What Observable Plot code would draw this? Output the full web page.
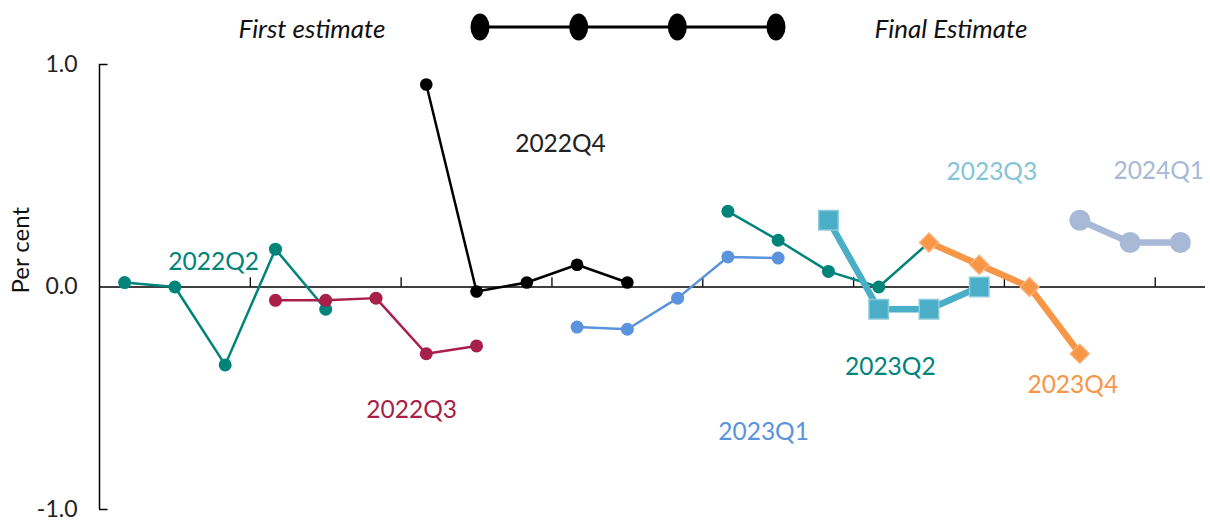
<!DOCTYPE html>
<html>
<head>
<meta charset="utf-8">
<script src="https://cdn.jsdelivr.net/npm/d3@7"></script>
<script src="https://cdn.jsdelivr.net/npm/@observablehq/plot@0.6"></script>
<style>
  html, body { margin: 0; padding: 0; background: #fff; }
  body { width: 1210px; height: 522px; overflow: hidden; font-family: Lato, "Noto Sans", sans-serif; }
  #legend { position: relative; width: 1210px; height: 50px; }
  #legend .lg { position: absolute; top: 15px; font-style: italic; font-size: 26px; color: #111; white-space: nowrap; line-height: 1; transform: translateX(-50%); }
  #legend svg { position: absolute; left: 0; top: 0; }
  #chart svg { display: block; }
</style>
</head>
<body>
<div id="legend"></div>
<div id="chart"></div>
<script>
// ---- data ----
const quarters = ["2022Q2", "2022Q3", "2022Q4", "2023Q1", "2023Q2", "2023Q3", "2023Q4", "2024Q1"];
// position (0-based estimate slot) of each quarter's first estimate
const firstSlot = [0, 3, 6, 9, 12, 14, 16, 19];
const v2022Q2 = [0.02, 0.00, -0.35, 0.17, -0.10];
const v2022Q3 = [-0.06, -0.06, -0.05, -0.30, -0.265];
const v2022Q4 = [0.91, -0.02, 0.02, 0.10, 0.02];
const v2023Q1 = [-0.18, -0.19, -0.05, 0.135, 0.13];
const v2023Q2 = [0.34, 0.21, 0.07, 0.00, 0.20];
const v2023Q3 = [0.30, -0.10, -0.10, 0.00];
const v2023Q4 = [0.20, 0.10, 0.00, -0.30];
const v2024Q1 = [0.30, 0.20, 0.20];
const seriesValues = [v2022Q2, v2022Q3, v2022Q4, v2023Q1, v2023Q2, v2023Q3, v2023Q4, v2024Q1];
// annotation anchor for each quarter's label (slot, per cent)
const labelSlot = [1.77, 5.71, 8.67, 12.71, 15.23, 17.25, 18.86, 20.57];
const labelValue = [0.112, -0.553, 0.64, -0.652, -0.36, 0.517, -0.44, 0.52];
const yTicks = [-1, 0, 1];
const xTickSlots = [2.5, 5.5, 8.5, 11.5, 14.5, 17.5, 20.5];
const yLabel = "Per cent";
const legendLeft = "First estimate";
const legendRight = "Final Estimate";
const legendMarkers = 4;

// ---- styles ----
const styleByQuarter = {
  "2022Q2": {color: "#00847a", width: 2.5, symbol: "circle", r: 6.5},
  "2022Q3": {color: "#a81f4a", width: 2.5, symbol: "circle", r: 6.5},
  "2022Q4": {color: "#000000", width: 2.5, symbol: "circle", r: 6.3},
  "2023Q1": {color: "#5b94dc", width: 2.5, symbol: "circle", r: 6.5},
  "2023Q2": {color: "#00847a", width: 2.5, symbol: "circle", r: 6.5},
  "2023Q3": {color: "#4aaec6", width: 6.5, symbol: "square", r: 11, edge: "#8ccbdc"},
  "2023Q4": {color: "#f79646", width: 6.5, symbol: "diamond2", r: 8.5, edge: "#f9b07a"},
  "2024Q1": {color: "#a8b9d8", width: 6.5, symbol: "circle", r: 10.5}
};
const labelColor = {"2022Q4": "#222", "2023Q3": "#86c4d8"};

// ---- rows ----
const rows = quarters.flatMap((q, k) =>
  seriesValues[k].map((v, i) => ({quarter: q, slot: firstSlot[k] + i, value: v})));
const labels = quarters.map((q, k) => ({quarter: q, slot: labelSlot[k], value: labelValue[k]}));

// ---- legend (HTML above the SVG) ----
const legend = d3.select("#legend");
legend.append("span").attr("class", "lg").style("left", "312px").text(legendLeft);
legend.append("span").attr("class", "lg").style("left", "951px").text(legendRight);
const lsvg = legend.append("svg").attr("width", 1210).attr("height", 50);
const lx = d3.scaleLinear().domain([0, legendMarkers - 1]).range([480, 776]);
lsvg.append("line").attr("x1", lx(0)).attr("x2", lx(legendMarkers - 1)).attr("y1", 27).attr("y2", 27)
  .attr("stroke", "#000").attr("stroke-width", 3);
lsvg.selectAll("ellipse").data(d3.range(legendMarkers)).join("ellipse")
  .attr("cx", d => lx(d)).attr("cy", 27).attr("rx", 9.5).attr("ry", 13.5).attr("fill", "#000");

// ---- chart ----
const marks = [
  // x axis line at zero and tick marks
  Plot.ruleY([0], {stroke: "#000", strokeWidth: 1.5}),
  Plot.ruleX(xTickSlots, {y1: 0, y2: 0.042, stroke: "#000", strokeWidth: 1.3}),
  // y axis line and inward ticks
  Plot.ruleX([-0.5], {y1: -1, y2: 1, stroke: "#000", strokeWidth: 1.5}),
  Plot.ruleY([-1, 1], {x1: -0.5, x2: -0.33, stroke: "#000", strokeWidth: 1.5}),
  Plot.axisY({ticks: yTicks, tickSize: 0, tickPadding: 22, tickFormat: d => d.toFixed(1), label: null, fill: "#222", fontSize: 23}),
  Plot.text([0.165], {y: d => d, frameAnchor: "left", dx: -78, rotate: -90, text: () => yLabel,
    textAnchor: "middle", lineAnchor: "middle", fontSize: 24, fill: "#111"})
];
for (const q of quarters) {
  const s = styleByQuarter[q];
  const data = rows.filter(d => d.quarter === q);
  marks.push(Plot.line(data, {x: "slot", y: "value", stroke: s.color, strokeWidth: s.width}));
  marks.push(Plot.dot(data, {x: "slot", y: "value", symbol: s.symbol, r: s.r, fill: s.color,
    stroke: s.edge || "none", strokeWidth: s.edge ? 1.5 : 0}));
}
marks.push(Plot.text(labels, {x: "slot", y: "value", text: "quarter", fontSize: 24.5,
  fill: d => labelColor[d.quarter] || styleByQuarter[d.quarter].color, textAnchor: "middle", lineAnchor: "middle"}));

const chart = Plot.plot({
  width: 1210,
  height: 472,
  marginTop: 14,
  marginBottom: 13,
  marginLeft: 99,
  marginRight: 5,
  style: {fontFamily: "Lato, 'Noto Sans', sans-serif", fontSize: "22px", background: "#fff", overflow: "visible"},
  x: {domain: [-0.5, 21.5], axis: null},
  y: {domain: [-1, 1], axis: null},
  marks
});
document.getElementById("chart").append(chart);
</script>
</body>
</html>
